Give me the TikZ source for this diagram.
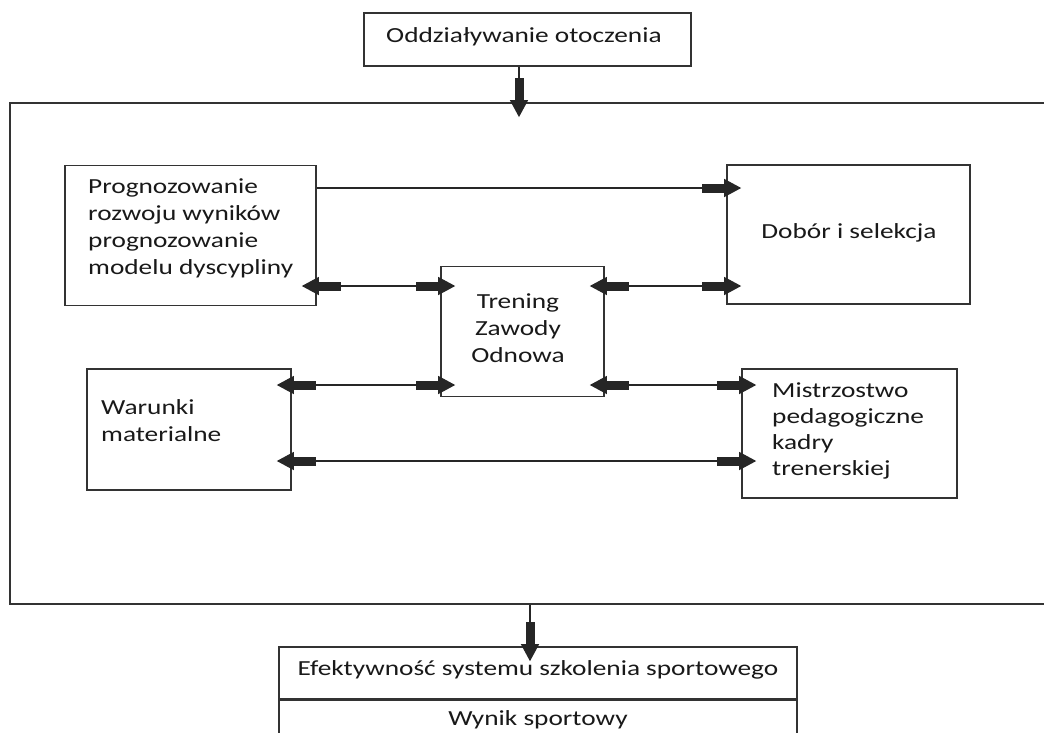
\documentclass[tikz,border=0pt]{standalone}
\usepackage{fontspec}
\setmainfont[FakeStretch=1.27]{Carlito}
\usetikzlibrary{arrows.meta}

\tikzset{
  box/.style={draw=black!80, line width=1.6pt, rectangle, inner sep=0pt},
  txt/.style={font=\fontsize{21.5}{27}\selectfont, inner sep=0pt, align=left, text=black!90},
  link/.style={line width=1.3pt, draw=black!85},
  fwd/.style={link,
    -{Rectangle[length=22pt,width=9pt,sep=0pt]Triangle[length=17pt,width=18pt]},
    shorten >=-15pt},
  both/.style={link,
    {Triangle[length=17pt,width=18pt]Rectangle[length=22pt,width=9pt,sep=0pt]}-{Rectangle[length=22pt,width=9pt,sep=0pt]Triangle[length=17pt,width=18pt]},
    shorten <=-15pt, shorten >=-15pt}
}

\begin{document}
\begin{tikzpicture}[x=1pt, y=-1pt]
  \useasboundingbox (0,0) rectangle (1044,732);
  \clip (0,0) rectangle (1044,732);
  \fill[white] (0,0) rectangle (1044,732);

  % boxes
  \node[box, minimum width=327pt, minimum height=53pt] (top) at (527.5,39.5) {};
  \node[box, line width=1.8pt, minimum width=1060pt, minimum height=501pt] (frame) at (540,353.5) {};
  \node[box, minimum width=251pt, minimum height=140pt] (prog) at (190.5,235.5) {};
  \node[box, minimum width=243pt, minimum height=139pt] (dob) at (848.5,234.5) {};
  \node[box, minimum width=163pt, minimum height=130pt] (trn) at (522.5,331.5) {};
  \node[box, minimum width=204pt, minimum height=121pt] (war) at (189,429.5) {};
  \node[box, minimum width=215pt, minimum height=129pt] (mis) at (849.5,433.5) {};
  \node[box, minimum width=518pt, minimum height=52pt] (bot1) at (538,673) {};
  \node[box, minimum width=518pt, minimum height=61pt, anchor=north] (bot2) at (bot1.south) {};

  % texts
  \node[txt, anchor=west] (toptxt) at (386,37) {Oddziaływanie otoczenia};
  \node[txt, anchor=west] (progtxt) at (88,228) {Prognozowanie\\rozwoju wyników\\prognozowanie\\modelu dyscypliny};
  \node[txt] (dobtxt) at (849,233) {Dobór i selekcja};
  \node[txt, align=center] (trntxt) at (518,328) {Trening\\Zawody\\Odnowa};
  \node[txt, anchor=west] (wartxt) at (101,421) {Warunki\\materialne};
  \node[txt, anchor=west, font=\fontsize{21.5}{26}\selectfont] (mistxt) at (772,431) {Mistrzostwo\\pedagogiczne\\kadry\\trenerskiej};
  \node[txt] (bot1txt) at (538,670) {Efektywność systemu szkolenia sportowego};
  \node[txt] (bot2txt) at (538,720) {Wynik sportowy};

  % levels of the connectors
  \coordinate (cx1) at (519,0);
  \coordinate (cx2) at (530,0);
  \coordinate (r0) at (0,188);
  \coordinate (r1) at (0,286);
  \coordinate (r2) at (0,385);
  \coordinate (r3) at (0,461);

  % connectors
  \draw[fwd] (top.south -| cx1) -- (frame.north -| cx1);
  \draw[fwd] (frame.south -| cx2) -- (bot1.north -| cx2);
  \draw[fwd] (prog.east |- r0) -- (dob.west |- r0);
  \draw[both] (prog.east |- r1) -- (trn.west |- r1);
  \draw[both] (trn.east |- r1) -- (dob.west |- r1);
  \draw[both] (war.east |- r2) -- (trn.west |- r2);
  \draw[both] (trn.east |- r2) -- (mis.west |- r2);
  \draw[both] (war.east |- r3) -- (mis.west |- r3);
\end{tikzpicture}
\end{document}
